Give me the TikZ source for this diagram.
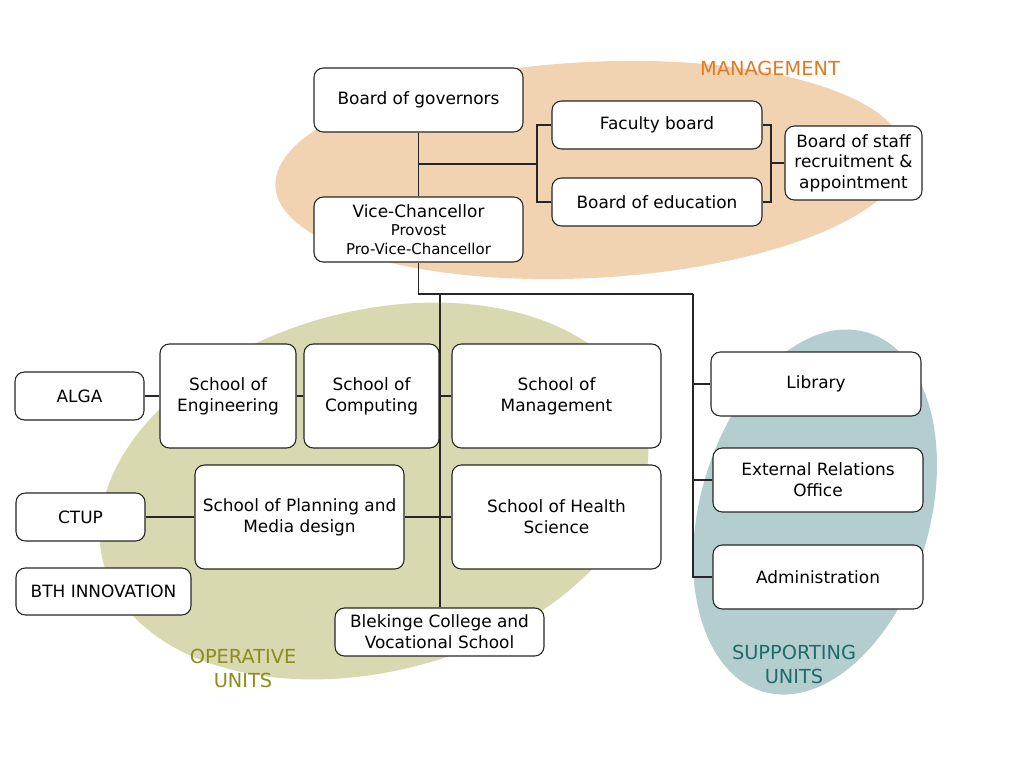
\documentclass[tikz,border=0pt]{standalone}
\usepackage{fontspec}
\setmainfont{DejaVu Sans}
\definecolor{mgfill}{HTML}{F1D3B2}
\definecolor{opfill}{HTML}{D8D9B1}
\definecolor{sufill}{HTML}{B4CECF}
\definecolor{mgtext}{HTML}{DF7A22}
\definecolor{optext}{HTML}{8C8C18}
\definecolor{sutext}{HTML}{1E6B6B}
\begin{document}
\begin{tikzpicture}[x=0.75pt,y=-0.75pt,
  ubox/.style={draw=black!85, fill=white, line width=0.8pt, rounded corners=7pt,
    align=center, inner sep=0pt, font=\fontsize{12.7}{15.5}\selectfont},
  conn/.style={draw=black!85, line width=0.8pt},
  grplabel/.style={align=center, inner sep=0pt, font=\fontsize{14.5}{18}\selectfont}]
\useasboundingbox (0,0) rectangle (1024,768);
% background groups
\fill[mgfill, rotate around={3:(590,170)}] (590,170) ellipse [x radius=315, y radius=108];
\fill[opfill, rotate around={15:(374,491)}] (374,491) ellipse [x radius=280, y radius=180];
\fill[sufill, rotate around={-16:(815,512)}] (815,512) ellipse [x radius=115, y radius=187];
\node[grplabel, text=mgtext] (lmg) at (770,68) {MANAGEMENT};
\node[grplabel, text=optext] (lop) at (243,668) {OPERATIVE\\UNITS};
\node[grplabel, text=sutext] (lsu) at (794,664) {SUPPORTING\\UNITS};
% management
\node[ubox, minimum width=156.75pt, minimum height=48pt] (bog) at (418.5,100) {Board of governors};
\node[ubox, minimum width=157.5pt, minimum height=36pt] (fac) at (657,125) {Faculty board};
\node[ubox, minimum width=157.5pt, minimum height=36pt] (boe) at (657,202) {Board of education};
\node[ubox, minimum width=102.75pt, minimum height=55.5pt] (staff) at (853.5,163) {Board of staff\\recruitment \&\\appointment};
\node[ubox, minimum width=156.75pt, minimum height=48.75pt] (vc) at (418.5,229.5)
  {Vice-Chancellor\\[-1.5pt]{\fontsize{11.2}{13}\selectfont Provost}\\[-1.5pt]{\fontsize{11.2}{13}\selectfont Pro-Vice-Chancellor}};
% operative
\node[ubox, minimum width=96.75pt, minimum height=36pt] (alga) at (79.5,396) {ALGA};
\node[ubox, minimum width=102pt, minimum height=78pt] (eng) at (228,396) {School of\\Engineering};
\node[ubox, minimum width=101.25pt, minimum height=78pt] (comp) at (371.5,396) {School of\\Computing};
\node[ubox, minimum width=156.75pt, minimum height=78pt] (mgmt) at (556.5,396) {School of\\Management};
\node[ubox, minimum width=96.75pt, minimum height=36pt] (ctup) at (80.5,517) {CTUP};
\node[ubox, minimum width=156.75pt, minimum height=78pt] (plan) at (299.5,517) {School of Planning and\\Media design};
\node[ubox, minimum width=156.75pt, minimum height=78pt] (health) at (556.5,517) {School of Health\\Science};
\node[ubox, minimum width=131.25pt, minimum height=35.25pt] (bth) at (103.5,591.5) {BTH INNOVATION};
\node[ubox, minimum width=156.75pt, minimum height=36pt] (blek) at (439.5,632) {Blekinge College and\\Vocational School};
% supporting
\node[ubox, minimum width=157.5pt, minimum height=48pt] (lib) at (816,384) {Library};
\node[ubox, minimum width=157.5pt, minimum height=48pt] (ext) at (818,480) {External Relations\\Office};
\node[ubox, minimum width=157.5pt, minimum height=48pt] (adm) at (818,577) {Administration};
% junctions
\coordinate (j1) at (537,164);
\coordinate (j2) at (771,163);
\coordinate (j4) at (693,294);
\coordinate (j5) at (440,294);
% connectors
\draw[conn] (bog.south) -- (vc.north);
\draw[conn] (bog.south |- j1) -- (j1);
\draw[conn] (fac.west) -| (j1);
\draw[conn] (boe.west) -| (j1);
\draw[conn] (fac.east) -| (j2);
\draw[conn] (boe.east) -| (j2);
\draw[conn] (j2) -- (staff.west);
\draw[conn] (vc.south) |- (j4);
\draw[conn] (j4) |- (adm.west);
\draw[conn] (lib.west -| j4) -- (lib.west);
\draw[conn] (ext.west -| j4) -- (ext.west);
\draw[conn] (j5) -- (j5 |- blek.north);
\draw[conn] (mgmt.west -| j5) -- (mgmt.west);
\draw[conn] (alga.east) -- (eng.west);
\draw[conn] (eng.east) -- (comp.west);
\draw[conn] (ctup.east) -- (plan.west);
\draw[conn] (plan.east) -- (health.west);
\end{tikzpicture}
\end{document}
